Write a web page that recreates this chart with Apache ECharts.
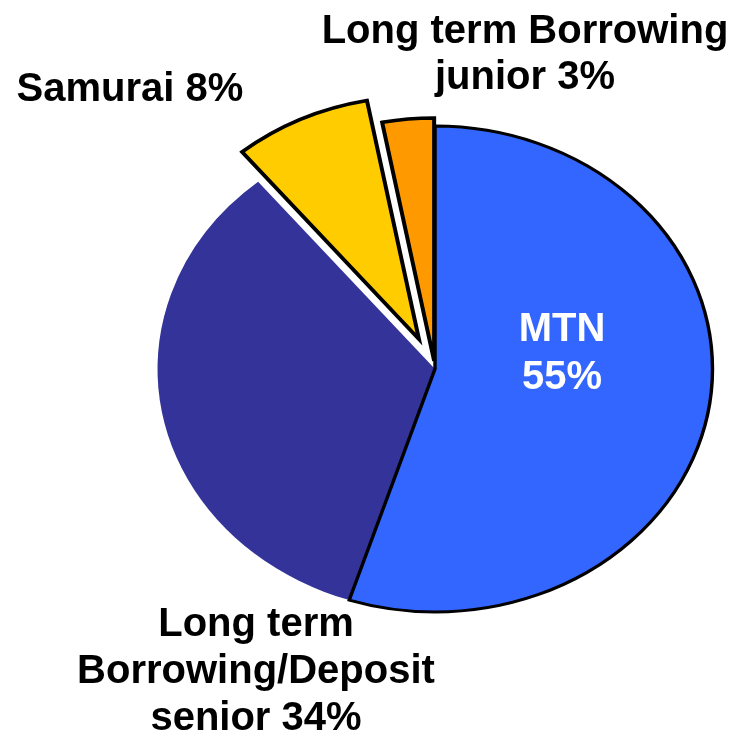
<!DOCTYPE html>
<html>
<head>
<meta charset="utf-8">
<script src="https://cdn.jsdelivr.net/npm/echarts@6/dist/echarts.min.js"></script>
<style>
  html, body { margin: 0; padding: 0; background: #fff; }
  #chart { width: 733px; height: 736px; }
</style>
</head>
<body>
<div id="chart"></div>
<script>
const categories = ['MTN', 'Long term\nBorrowing/Deposit\nsenior', 'Samurai', 'Long term Borrowing\njunior'];
const values = [55, 34, 8, 3];
const colors = ['#3366FF', '#333399', '#FFCC00', '#FF9900'];

// layout of the drawing (not data)
const cx = 435, cy = 369, rx = 277.5, ry = 243;
const explode = [0, 0, 33, 8];
const strokes = [3, 0, 3.5, 3.5];
const labelLayout = [
  { x: 562, y: 354, sep: '\n', fill: '#fff', lh: 48 },
  { x: 256, y: 672, sep: ' ', fill: '#000', lh: 47 },
  { x: 130, y: 90, sep: ' ', fill: '#000', lh: 46 },
  { x: 525, y: 55, sep: ' ', fill: '#000', lh: 46 }
];

const total = values.reduce((a, b) => a + b, 0);
const starts = [];
let acc = 0;
values.forEach(v => { starts.push(acc); acc += v; });

const chart = echarts.init(document.getElementById('chart'));

chart.setOption({
  animation: false,
  series: [{
    type: 'custom',
    coordinateSystem: 'none',
    data: values,
    renderItem: function (params, api) {
      const i = params.dataIndex;
      const a0 = -Math.PI / 2 + starts[i] / total * Math.PI * 2;
      const a1 = a0 + values[i] / total * Math.PI * 2;
      const mid = (a0 + a1) / 2;
      const lab = labelLayout[i];
      return {
        type: 'group',
        children: [{
          type: 'sector',
          x: cx,
          y: cy,
          scaleX: rx / ry,
          scaleY: 1,
          z2: i === 1 ? 1 : 5,
          shape: {
            cx: explode[i] * Math.cos(mid),
            cy: explode[i] * Math.sin(mid),
            r: ry,
            r0: 0,
            startAngle: a0,
            endAngle: a1,
            clockwise: true
          },
          style: {
            fill: colors[i],
            stroke: strokes[i] ? '#000' : null,
            lineWidth: strokes[i],
            lineJoin: 'miter'
          }
        }, {
          type: 'text',
          x: lab.x,
          y: lab.y,
          z2: 10,
          style: {
            text: categories[i] + lab.sep + values[i] + '%',
            fill: lab.fill,
            fontSize: 40,
            fontWeight: 'bold',
            fontFamily: 'Liberation Sans, Arial, sans-serif',
            align: 'center',
            verticalAlign: 'middle',
            lineHeight: lab.lh
          }
        }]
      };
    }
  }]
});
</script>
</body>
</html>
